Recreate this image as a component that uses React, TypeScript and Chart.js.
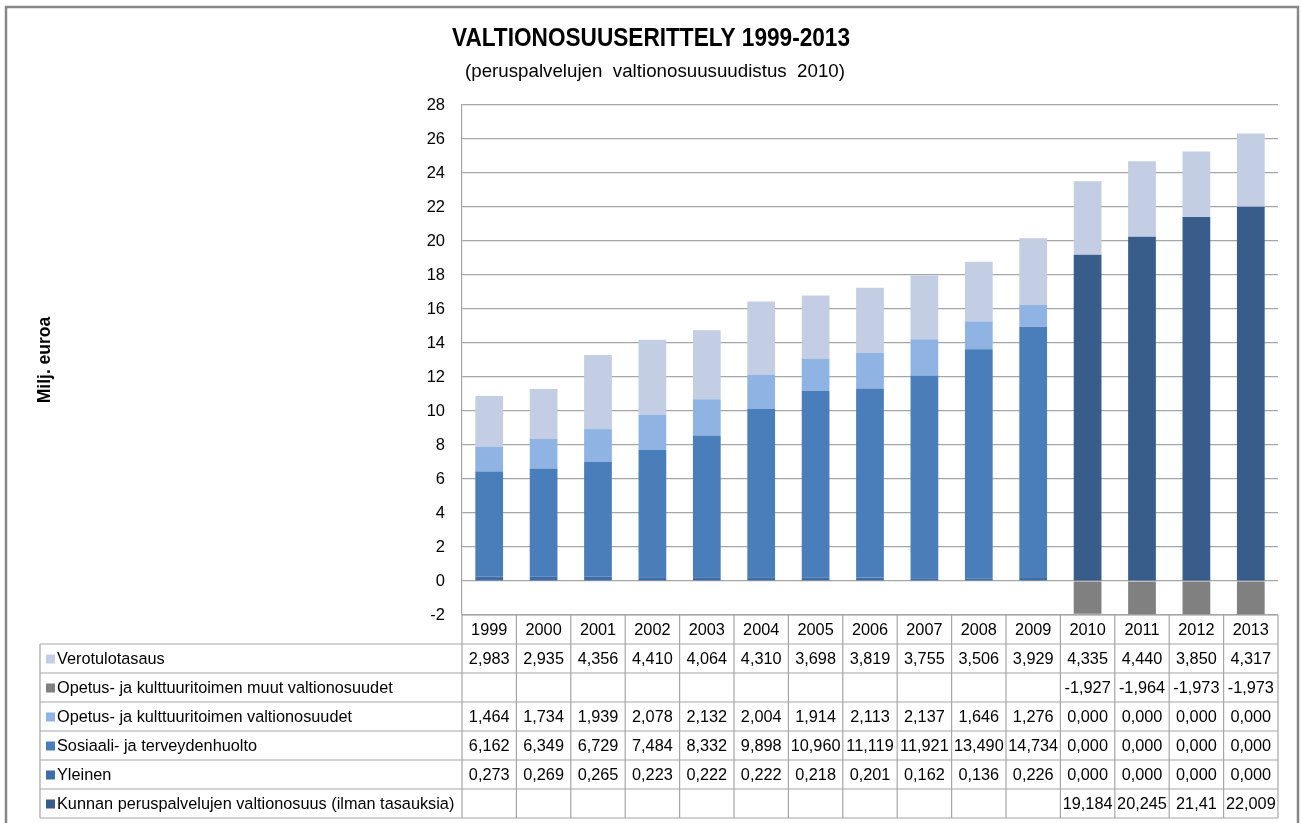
import React, { useEffect, useRef } from "react";
import { Chart, registerables } from "chart.js";

Chart.register(...registerables);

const years = ["1999", "2000", "2001", "2002", "2003", "2004", "2005", "2006", "2007", "2008", "2009", "2010", "2011", "2012", "2013"];
const verotulotasaus = [2.983, 2.935, 4.356, 4.41, 4.064, 4.31, 3.698, 3.819, 3.755, 3.506, 3.929, 4.335, 4.44, 3.85, 4.317];
const opetusMuut = [null, null, null, null, null, null, null, null, null, null, null, -1.927, -1.964, -1.973, -1.973];
const opetusValt = [1.464, 1.734, 1.939, 2.078, 2.132, 2.004, 1.914, 2.113, 2.137, 1.646, 1.276, 0, 0, 0, 0];
const sosiaali = [6.162, 6.349, 6.729, 7.484, 8.332, 9.898, 10.96, 11.119, 11.921, 13.49, 14.734, 0, 0, 0, 0];
const yleinen = [0.273, 0.269, 0.265, 0.223, 0.222, 0.222, 0.218, 0.201, 0.162, 0.136, 0.226, 0, 0, 0, 0];
const kunnan = [null, null, null, null, null, null, null, null, null, null, null, 19.184, 20.245, 21.41, 22.009];
const kunnanDecimals = [3, 3, 3, 3, 3, 3, 3, 3, 3, 3, 3, 3, 3, 2, 3];

const titleText = "VALTIONOSUUSERITTELY 1999-2013";
const subtitleText = "(peruspalvelujen  valtionosuusuudistus  2010)";
const yTitle = "Milj. euroa";

const TFONT = "'Liberation Sans', Arial, sans-serif";

// table rows, top to bottom
const tableRows = [
  { label: "Verotulotasaus", data: verotulotasaus, color: "#c3cde3" },
  { label: "Opetus- ja kulttuuritoimen muut valtionosuudet", data: opetusMuut, color: "#808080" },
  { label: "Opetus- ja kulttuuritoimen valtionosuudet", data: opetusValt, color: "#8fb4e3" },
  { label: "Sosiaali- ja terveydenhuolto", data: sosiaali, color: "#4a7ebb" },
  { label: "Yleinen", data: yleinen, color: "#3e6ca6" },
  { label: "Kunnan peruspalvelujen valtionosuus (ilman tasauksia)", data: kunnan, color: "#385d8a", decimals: kunnanDecimals },
];

function fmt(v: number | null, dec: number) {
  if (v === null || v === undefined) return "";
  return v.toFixed(dec).replace(".", ",");
}

function drawScaledText(ctx: CanvasRenderingContext2D, text: string, cx: number, y: number, font: string, targetW: number) {
  ctx.save();
  ctx.font = font;
  const w = ctx.measureText(text).width;
  const s = targetW / w;
  ctx.translate(cx, y);
  ctx.scale(s, 1);
  ctx.textAlign = "center";
  ctx.textBaseline = "alphabetic";
  ctx.fillText(text, 0, 0);
  ctx.restore();
}

const decorPlugin = {
  id: "decor",
  afterDraw(chart: any) {
    const ctx: CanvasRenderingContext2D = chart.ctx;
    const area = chart.chartArea;
    const x = chart.scales.x;
    const n = years.length;
    const colW = (area.right - area.left) / n;
    const top = area.bottom;
    const rowH = 29;
    const labelLeft = 40;

    ctx.save();
    // outer border
    ctx.strokeStyle = "#878787";
    ctx.lineWidth = 2.5;
    ctx.strokeRect(6, 7, 1292, 840);

    // titles
    ctx.fillStyle = "#000";
    drawScaledText(ctx, titleText, 651, 46, "bold 26px " + TFONT, 398);
    drawScaledText(ctx, subtitleText, 655, 77, "19px " + TFONT, 380);

    // y title
    ctx.save();
    ctx.translate(45, 360);
    ctx.rotate(-Math.PI / 2);
    ctx.font = "bold 17.5px " + TFONT;
    ctx.textAlign = "center";
    ctx.textBaseline = "middle";
    ctx.fillText(yTitle, 0, 0);
    ctx.restore();

    // table grid
    ctx.strokeStyle = "#a6a6a6";
    ctx.lineWidth = 1.2;
    const totalRows = tableRows.length + 1;
    const bottom = top + rowH * totalRows;
    for (let r = 0; r <= totalRows; r++) {
      const yy = top + r * rowH;
      ctx.beginPath();
      ctx.moveTo(r === 0 ? area.left : labelLeft, yy);
      ctx.lineTo(area.right, yy);
      ctx.stroke();
    }
    for (let c = 0; c <= n; c++) {
      const xx = area.left + c * colW;
      ctx.beginPath();
      ctx.moveTo(xx, top);
      ctx.lineTo(xx, bottom);
      ctx.stroke();
    }
    ctx.beginPath();
    ctx.moveTo(labelLeft, top + rowH);
    ctx.lineTo(labelLeft, bottom);
    ctx.stroke();

    ctx.fillStyle = "#000";
    ctx.font = "16.3px " + TFONT;
    ctx.textBaseline = "middle";
    ctx.textAlign = "center";
    for (let i = 0; i < n; i++) {
      const cx = x.getPixelForValue(i);
      ctx.fillText(years[i], cx, top + rowH / 2 + 1);
    }
    tableRows.forEach((row, r) => {
      const cy = top + rowH * (r + 1) + rowH / 2 + 1;
      ctx.fillStyle = row.color;
      ctx.fillRect(46, cy - 5, 9, 9);
      ctx.fillStyle = "#000";
      ctx.textAlign = "left";
      ctx.fillText(row.label, 57, cy);
      ctx.textAlign = "center";
      for (let i = 0; i < n; i++) {
        const dec = row.decimals ? row.decimals[i] : 3;
        const t = fmt(row.data[i] as any, dec);
        if (t) ctx.fillText(t, x.getPixelForValue(i), cy);
      }
    });
    ctx.restore();
  },
};

export default function App() {
  const ref = useRef<HTMLCanvasElement>(null);
  useEffect(() => {
    if (!ref.current) return;
    const mk = (label: string, data: any[], color: string) => ({
      label,
      data,
      backgroundColor: color,
      borderWidth: 0,
      categoryPercentage: 1,
      barPercentage: 0.51,
    });
    const chart = new Chart(ref.current, {
      type: "bar",
      data: {
        labels: years,
        datasets: [
          mk(tableRows[5].label, kunnan, tableRows[5].color),
          mk(tableRows[4].label, yleinen, tableRows[4].color),
          mk(tableRows[3].label, sosiaali, tableRows[3].color),
          mk(tableRows[2].label, opetusValt, tableRows[2].color),
          mk(tableRows[1].label, opetusMuut, tableRows[1].color),
          mk(tableRows[0].label, verotulotasaus, tableRows[0].color),
        ],
      },
      options: {
        responsive: false,
        animation: false,
        devicePixelRatio: 1,
        layout: { padding: { top: 105, bottom: 208, left: 0, right: 23 } },
        plugins: { legend: { display: false }, tooltip: { enabled: false }, title: { display: false } },
        scales: {
          x: { stacked: true, display: false },
          y: {
            stacked: true,
            min: -2,
            max: 28,
            afterFit: (s: any) => {
              s.width = 462;
            },
            ticks: { stepSize: 2, padding: 17, color: "#000", font: { size: 16.5, family: TFONT } },
            grid: { color: "#a6a6a6", lineWidth: 1.2, drawTicks: false },
            border: { display: true, color: "#a6a6a6", width: 1.2 },
          },
        },
      },
      plugins: [decorPlugin],
    });
    return () => chart.destroy();
  }, []);
  return (
    <div style={{ position: "absolute", left: 0, top: 0, width: 1301, height: 823, background: "#fff" }}>
      <canvas ref={ref} width={1301} height={823} />
    </div>
  );
}
